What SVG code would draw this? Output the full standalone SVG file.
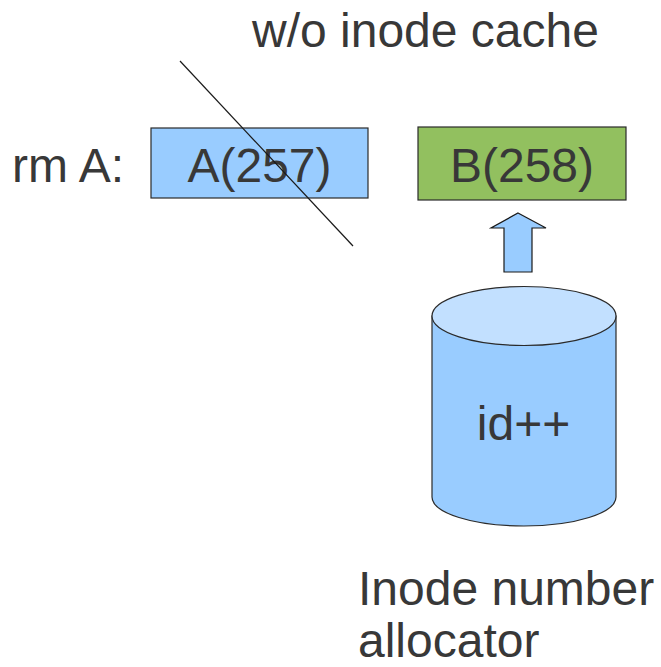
<svg xmlns="http://www.w3.org/2000/svg" width="661" height="667" viewBox="0 0 661 667">
  <style>
    .label { font-family: "Liberation Sans", Arial, sans-serif; font-size: 48px; fill: #383838; }
    .mid { text-anchor: middle; }
    .box { stroke: #2a2a2a; stroke-width: 1.2; }
    .edge { stroke: #1a1a1a; stroke-width: 1.2; fill: none; }
  </style>
  <rect width="661" height="667" fill="#ffffff"/>

  <text id="title" class="label" x="252" y="47">w/o inode cache</text>
  <text id="cmd" class="label" x="12" y="182">rm A:</text>

  <g id="nodeA">
    <rect class="box" x="151" y="128" width="217" height="70" fill="#99ccff"/>
    <text class="label mid" x="259.5" y="182">A(257)</text>
  </g>

  <g id="nodeB">
    <rect class="box" x="418" y="127" width="208" height="73" fill="#92c05f"/>
    <text class="label mid" x="522" y="182">B(258)</text>
  </g>

  <g id="allocator">
    <path class="box" d="M432,316 L432,497 A92,29 0 0 0 616,497 L616,316 Z" fill="#99ccff"/>
    <ellipse class="box" cx="524" cy="316" rx="92" ry="29.5" fill="#c2e0ff"/>
    <text class="label mid" x="523.5" y="440">id++</text>
  </g>

  <text id="allocLabel" class="label" x="358">
    <tspan x="358" y="605">Inode number</tspan>
    <tspan x="358" y="657">allocator</tspan>
  </text>

  <g id="connectors">
    <line class="edge" x1="180" y1="61" x2="353" y2="246"/>
    <polygon points="518,213 546,228 532,228 532,272 504,272 504,228 491,228" fill="#99ccff" stroke="#1a1a1a" stroke-width="1.2"/>
  </g>
</svg>
